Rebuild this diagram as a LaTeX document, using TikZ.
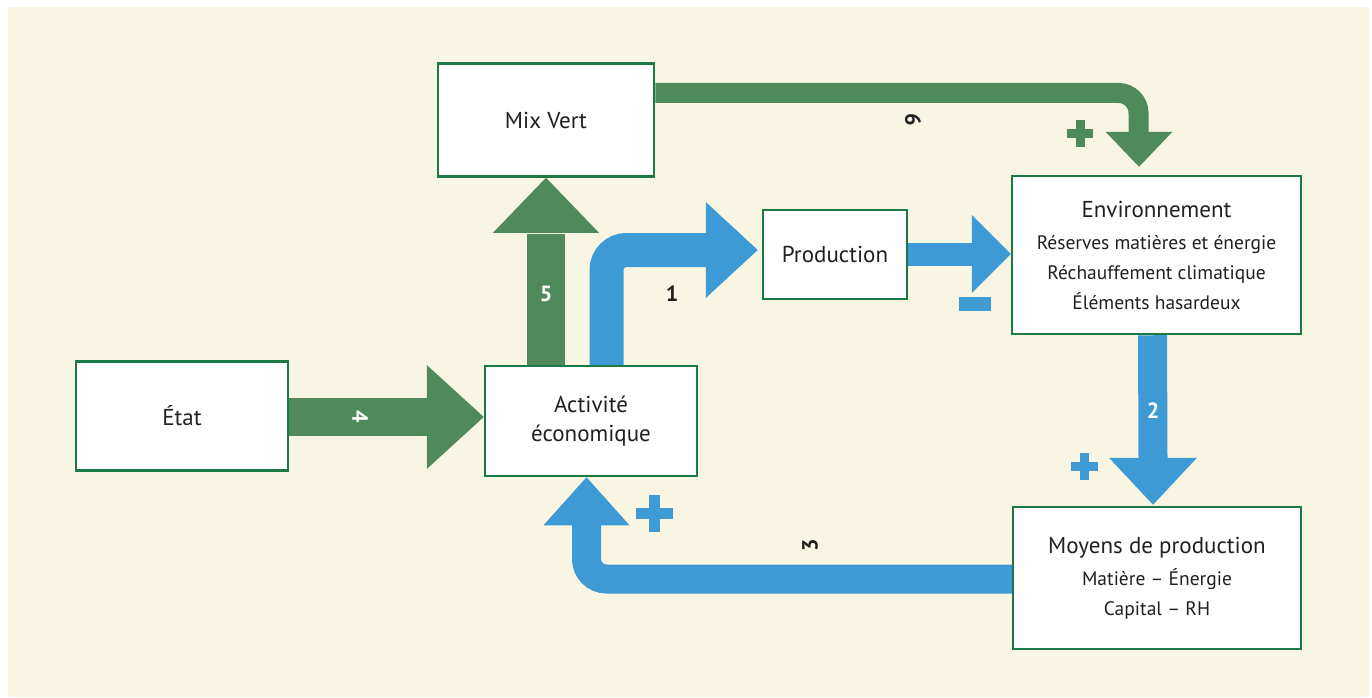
\documentclass[tikz,border=0pt]{standalone}
\usepackage{fontspec}
\setmainfont{PT Sans}
\usetikzlibrary{calc,backgrounds}
\definecolor{schemaCream}{HTML}{F8F6E2}
\definecolor{schemaGreen}{HTML}{4E8A5A}
\definecolor{schemaBlue}{HTML}{3D9AD5}
\definecolor{schemaFrame}{HTML}{1B7A43}
\definecolor{schemaInk}{HTML}{231F20}
\tikzset{
  bloc/.style={draw=schemaFrame,line width=2.5pt,fill=white,align=center,
               text=schemaInk,inner sep=2pt},
  bande/.style={line width=#1},
  numero/.style={font=\fontsize{22}{22}\selectfont\bfseries,inner sep=0pt},
}
% colour, centre, arm, thickness
\newcommand{\plussign}[4]{%
  \fill[#1] ($(#2)+(-#3/2,-#4/2)$) rectangle ($(#2)+(#3/2,#4/2)$);
  \fill[#1] ($(#2)+(-#4/2,-#3/2)$) rectangle ($(#2)+(#4/2,#3/2)$);}

\begin{document}
\begin{tikzpicture}[x=1pt,y=-1pt,font=\fontsize{23}{29}\selectfont]
\useasboundingbox (0,0) rectangle (1372,698);

\node[bloc,minimum width=216pt,minimum height=113pt] (mix) at (546,120) {Mix Vert};
\node[bloc,minimum width=212pt,minimum height=109pt] (etat) at (182,416) {État};
\node[bloc,minimum width=212pt,minimum height=110pt] (act) at (591,421) {Activité\\économique};
\node[bloc,minimum width=144pt,minimum height=89pt] (prod) at (835,254.5) {Production};
\node[bloc,minimum width=289pt,minimum height=158pt,font=\fontsize{19.5}{30}\selectfont] (env) at (1156.5,255)
  {{\fontsize{23}{25}\selectfont Environnement}\\[2pt]Réserves matières et énergie\\Réchauffement climatique\\Éléments hasardeux};
\node[bloc,minimum width=288pt,minimum height=142pt,font=\fontsize{19.5}{30}\selectfont] (moy) at (1157,578)
  {{\fontsize{23}{25}\selectfont Moyens de production}\\[2pt]Matière -- Énergie\\Capital -- RH};

\begin{scope}[on background layer]
\fill[schemaCream] (8,7) rectangle (1369,697);
% 4 : etat -> activite
\draw[schemaGreen,bande=38pt] ($(etat.east)+(0,1)$) -- ++(141,0);
\fill[schemaGreen] ($(act.west)+(0,-4)$) -- ++(-57,-52) -- ++(0,104) -- cycle;
% 5 : activite -> mix vert
\draw[schemaGreen,bande=38pt] (mix.south |- act.north) -- ($(mix.south)+(0,56)$);
\fill[schemaGreen] (mix.south) -- ++(-53,55) -- ++(106,0) -- cycle;
% 1 : activite -> production
\draw[schemaBlue,bande=34pt,rounded corners=20pt] ($(act.north)+(15.5,0)$) |- ($(prod.west)+(-51,-4.5)$);
\fill[schemaBlue] ($(prod.west)+(-4,-4.5)$) -- ++(-52,-48) -- ++(0,96) -- cycle;
% production -> environnement
\draw[schemaBlue,bande=23pt] (prod.east) -- ++(67,0);
\fill[schemaBlue] ($(env.west)+(0,-1)$) -- ++(-39,-39) -- ++(0,78) -- cycle;
% 6 : mix vert -> environnement
\draw[schemaGreen,bande=20pt,rounded corners=20pt] ($(mix.east)+(0,-27)$) -| ($(env.north)+(-18,-42)$);
\fill[schemaGreen] ($(env.north)+(-17.5,-8)$) -- ++(-33.5,-35) -- ++(67,0) -- cycle;
% 2 : environnement -> moyens
\draw[schemaBlue,bande=29pt] ($(env.south)+(-4,0)$) -- ($(moy.north)+(-4,-46)$);
\fill[schemaBlue] ($(moy.north)+(-4,-1)$) -- ++(-44,-47) -- ++(88,0) -- cycle;
% 3 : moyens -> activite
\draw[schemaBlue,bande=29pt,rounded corners=20pt] ($(moy.west)+(0,1)$) -| ($(act.south)+(-4.5,46)$);
\fill[schemaBlue] ($(act.south)+(-4.5,0)$) -- ++(-43,48) -- ++(86,0) -- cycle;
\end{scope}

% signes
\fill[schemaBlue] (959,297) rectangle (991,311);
\plussign{schemaGreen}{1080,133.5}{26}{9}
\plussign{schemaBlue}{1084.5,466}{27}{9}
\plussign{schemaBlue}{654.5,513.5}{37}{11}

% numeros
\node[numero,text=schemaInk] (n1) at (672,294) {1};
\node[numero,text=white] (n2) at (1153,411) {2};
\node[numero,text=schemaInk,rotate=90] (n3) at (810,545) {3};
\node[numero,text=white,rotate=-90] (n4) at (360,417) {4};
\node[numero,text=white] (n5) at (546,294) {5};
\node[numero,text=schemaInk,rotate=-90] (n6) at (913,120) {6};
\end{tikzpicture}
\end{document}
